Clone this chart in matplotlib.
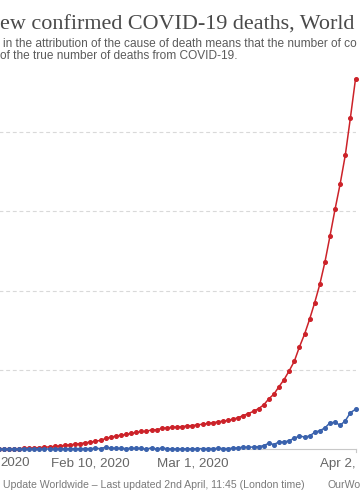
import matplotlib
matplotlib.use("Agg")
import matplotlib.pyplot as plt
import pandas as pd

# ---------------- data ----------------
dates = pd.date_range("2020-01-21", "2020-04-02", freq="D")

total_deaths = [
    6, 17, 18, 26, 42, 56, 82, 106, 132, 170, 213,                      # Jan 21-31
    259, 304, 362, 426, 492, 565, 638, 724, 813, 910, 1018, 1115, 1369,  # Feb 1-13
    1523, 1666, 1770, 1868, 2007, 2122, 2247, 2251, 2458, 2469, 2629,    # Feb 14-24
    2708, 2770, 2814, 2872, 2941,                                        # Feb 25-29
    2996, 3085, 3160, 3254, 3348, 3460, 3558, 3650, 3802, 3988, 4262,    # Mar 1-11
    4500, 4800, 5130, 5600, 6360, 6960, 7900, 8800, 9900, 11100, 12900,  # Mar 12-22
    14500, 16400, 18500, 20800, 23600, 26900, 30300, 33500, 37100,       # Mar 23-31
    41800, 46700,                                                        # Apr 1-2
]

daily_deaths = [
    3, 11, 1, 8, 16, 14, 26, 24, 26, 38, 43,
    46, 45, 58, 64, 66, 73, 73, 86, 89, 97, 108, 97, 254,
    154, 143, 104, 98, 139, 115, 125, 4, 207, 11, 160,
    79, 62, 44, 58, 69,
    55, 89, 75, 94, 94, 112, 98, 92, 152, 186, 274,
    238, 300, 330, 470, 760, 600, 940, 900, 1100, 1390, 1680,
    1550, 1680, 2140, 2350, 2690, 3350, 3400, 3030, 3600,
    4620, 5040,
]

x_start_date = "2020-01-21"
x_end_date = "2020-04-02"
tick_dates = ["2020-02-10", "2020-03-01"]
tick_labels = ["Feb 10, 2020", "Mar 1, 2020"]
left_tick_fragment = "2020"        # visible tail of "Jan 21, 2020"
right_tick_fragment = "Apr 2,"     # visible head of "Apr 2, 2020"
y_grid = [10000, 20000, 30000, 40000]
y_max = 50000

# visible parts of the (cropped) chart texts
title_visible = "ew confirmed COVID-19 deaths, World"
sub1 = "in the attribution of the cause of death means that the number of co"
sub2 = "of the true number of deaths from COVID-19."
src = "Update Worldwide – Last updated 2nd April, 11:45 (London time)"
license_txt = "OurWo"

RED = "#cc2229"
BLUE = "#3a62ad"
SANS = ["Liberation Sans", "DejaVu Sans"]
SERIF = ["Liberation Serif", "DejaVu Serif"]

# ---------------- layout (pixels) ----------------
W, H = 360, 504
fig = plt.figure(figsize=(W / 100, H / 100), dpi=100)
fig.patch.set_facecolor("white")

px_per_day = 5.1
x_end = 355.5
d0 = pd.Timestamp(x_start_date)
d1 = pd.Timestamp(x_end_date)
ndays = (d1 - d0).days
x_start = x_end - ndays * px_per_day
y_base = 449.3
y_top = y_base - 5 * 79.3

ax = fig.add_axes([x_start / W, 1 - y_base / H,
                   (x_end - x_start) / W, (y_base - y_top) / H])
ax.set_facecolor("white")
ax.set_xlim(d0, d1)
ax.set_ylim(0, y_max)

for g in y_grid:
    ax.axhline(g, color="#d9d9d9", lw=0.8, linestyle=(0, (3.5, 2.5)), zorder=0)

ax.plot(dates, total_deaths, color=RED, lw=1.1, marker="o", ms=2.6,
        mec=RED, mfc=RED, zorder=3, clip_on=False)
ax.plot(dates, daily_deaths, color=BLUE, lw=1.1, marker="o", ms=2.6,
        mec=BLUE, mfc=BLUE, zorder=4, clip_on=False)

for s in ["top", "right", "left"]:
    ax.spines[s].set_visible(False)
ax.spines["bottom"].set_color("#c8c8c8")
ax.spines["bottom"].set_linewidth(0.8)
ax.set_yticks([])
ax.set_xticks([pd.Timestamp(t) for t in tick_dates])
ax.set_xticklabels(tick_labels, fontsize=9.6, color="#666666", family=SANS)
ax.tick_params(axis="x", length=0, pad=6)
ax.plot([d1, d1], [0, -y_max * 0.008], color="#c8c8c8", lw=0.8, clip_on=False)

# ---------------- texts ----------------
renderer = fig.canvas.get_renderer()


def width_px(s, **kw):
    t = fig.text(0, 0, s, **kw)
    w = t.get_window_extent(renderer).width
    t.remove()
    return w


def fx(x):
    return x / W


def fy(y):
    return 1 - y / H


def fit_fs(s, target_w, family, base=10.0):
    return base * target_w / width_px(s, fontsize=base, family=family)


tick_kw = dict(fontsize=9.6, family=SANS, color="#666666")
fig.text(fx(0), fy(466.5), left_tick_fragment, ha="left", va="baseline", **tick_kw)
fig.text(fx(320.5), fy(466.5), right_tick_fragment, ha="left", va="baseline", **tick_kw)

# title
title_fs = fit_fs(title_visible, 356, SERIF)
fig.text(fx(0.5), fy(29.3), title_visible, fontsize=title_fs, family=SERIF,
         color="#4a4a4a", ha="left", va="baseline")

# subtitle
sub_fs = fit_fs(sub2, 239, SANS)
kw_sub = dict(fontsize=sub_fs, family=SANS, color="#5b5b5b")
fig.text(fx(3), fy(46.7), sub1, ha="left", va="baseline", **kw_sub)
fig.text(fx(0.5), fy(59.3), sub2, ha="left", va="baseline", **kw_sub)

# footer
src_fs = fit_fs(src, 302, SANS)
kw_src = dict(fontsize=src_fs, family=SANS, color="#7a7a7a")
fig.text(fx(3), fy(488), src, ha="left", va="baseline", **kw_src)
fig.text(fx(328), fy(488), license_txt, ha="left", va="baseline", **kw_src)

fig.savefig("out.png", dpi=100, facecolor="white")
